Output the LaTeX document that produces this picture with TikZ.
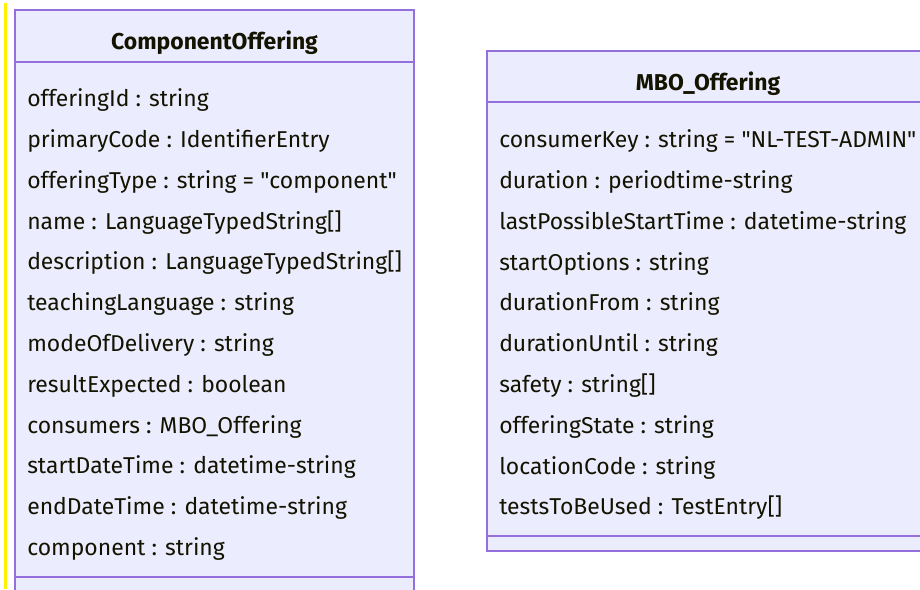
\documentclass[tikz,border=0pt]{standalone}
\usepackage{fontspec}
\setmainfont{Fira Sans}
\usetikzlibrary{positioning}
\definecolor{classfill}{HTML}{ECECFF}
\definecolor{classline}{HTML}{9370DB}
\definecolor{classtext}{HTML}{131300}
\tikzset{
    every node/.style={
        font=\fontsize{17.2}{20}\selectfont,
        text=classtext
    },
    classbox/.style={
        draw=classline,
        fill=classfill,
        line width=1.1pt
    },
    classtitle/.style={
        font=\fontsize{17.2}{20}\selectfont\bfseries,
        inner sep=0pt
    },
    attr/.style={
        anchor=west,
        inner sep=0pt,
        text height=12.8pt,
        text depth=3.6pt
    }
}
\begin{document}
\begin{tikzpicture}[x=0.75pt, y=-0.75pt, node distance=30.6pt]
    \useasboundingbox (0,0) rectangle (920,589);
    % marker on the left border
    \fill[yellow] (4,3) rectangle (7,589);

    % ComponentOffering
    \draw[classbox] (15,10) rectangle (414,600);
    \draw[classline, line width=1.1pt] (15,62) -- (414,62);
    \draw[classline, line width=1.1pt] (15,577) -- (414,577);
    \node (co) at (214.5,42.5) [classtitle] {ComponentOffering};

    \node (coid) at (27,100.5) [attr] {offeringId : string};
    \node (copc) [below=of coid.west, attr] {primaryCode : IdentifierEntry};
    \node (coty) [below=of copc.west, attr] {offeringType : string = \textquotedbl component\textquotedbl};
    \node (conm) [below=of coty.west, attr] {name : LanguageTypedString[]};
    \node (cods) [below=of conm.west, attr] {description : LanguageTypedString[]};
    \node (cotl) [below=of cods.west, attr] {teachingLanguage : string};
    \node (comd) [below=of cotl.west, attr] {modeOfDelivery : string};
    \node (core) [below=of comd.west, attr] {resultExpected : boolean};
    \node (cocs) [below=of core.west, attr] {consumers : MBO\_Offering};
    \node (cost) [below=of cocs.west, attr] {startDateTime : datetime-string};
    \node (coed) [below=of cost.west, attr] {endDateTime : datetime-string};
    \node (cocp) [below=of coed.west, attr] {component : string};

    % MBO_Offering
    \draw[classbox] (487,51) rectangle (930,551);
    \draw[classline, line width=1.1pt] (487,102) -- (930,102);
    \draw[classline, line width=1.1pt] (487,536) -- (930,536);
    \node (mbo) at (708,83.5) [classtitle] {MBO\_Offering};

    \node (mbck) at (499,141.5) [attr] {consumerKey : string = \textquotedbl NL-TEST-ADMIN\textquotedbl};
    \node (mbdu) [below=of mbck.west, attr] {duration : periodtime-string};
    \node (mbls) [below=of mbdu.west, attr] {lastPossibleStartTime : datetime-string};
    \node (mbso) [below=of mbls.west, attr] {startOptions : string};
    \node (mbdf) [below=of mbso.west, attr] {durationFrom : string};
    \node (mbdt) [below=of mbdf.west, attr] {durationUntil : string};
    \node (mbsf) [below=of mbdt.west, attr] {safety : string[]};
    \node (mbos) [below=of mbsf.west, attr] {offeringState : string};
    \node (mblc) [below=of mbos.west, attr] {locationCode : string};
    \node (mbtu) [below=of mblc.west, attr] {testsToBeUsed : TestEntry[]};
\end{tikzpicture}
\end{document}
